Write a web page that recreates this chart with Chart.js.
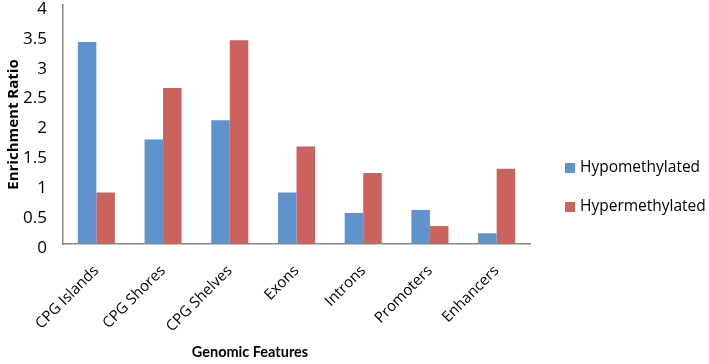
<!DOCTYPE html>
<html><head><meta charset="utf-8">
<script src="https://cdn.jsdelivr.net/npm/chart.js@4/dist/chart.umd.min.js"></script>
<style>html,body{margin:0;padding:0;background:#fff}#wrap{width:709px;height:364px}</style>
</head><body><div id="wrap"><canvas id="c"></canvas></div>
<script>
const categories = ['CPG Islands','CPG Shores','CPG Shelves','Exons','Introns','Promoters','Enhancers'];
const hypomethylated = [3.38, 1.75, 2.07, 0.86, 0.52, 0.57, 0.18];
const hypermethylated = [0.86, 2.61, 3.41, 1.63, 1.19, 0.30, 1.26];
const seriesNames = ['Hypomethylated','Hypermethylated'];
const yTicks = [0,0.5,1,1.5,2,2.5,3,3.5,4];
const FONT = "'Open Sans', 'Liberation Sans', sans-serif";
const colors = ['#5E93CC','#CC625E'];

const customLegend = {
  id:'customLegend',
  afterDraw(chart){
    const ctx = chart.ctx;
    ctx.save();
    ctx.font = "15.5px " + FONT;
    ctx.textBaseline = 'middle';
    const ys = [168, 207];
    seriesNames.forEach((n,i)=>{
      ctx.fillStyle = colors[i];
      ctx.fillRect(565, ys[i]-5, 10, 10);
      ctx.fillStyle = '#000';
      ctx.fillText(n, 580, ys[i]);
    });
    ctx.font = "bold 14.5px Lato, " + FONT;
    ctx.textAlign = 'center';
    ctx.fillText('Genomic Features', 250, 352);
    ctx.restore();
  }
};

new Chart(document.getElementById('c'), {
  type:'bar',
  data:{
    labels: categories,
    datasets:[
      {label: seriesNames[0], data: hypomethylated, backgroundColor: colors[0]},
      {label: seriesNames[1], data: hypermethylated, backgroundColor: colors[1]}
    ]
  },
  options:{
    responsive:true, maintainAspectRatio:false, animation:false,
    layout:{padding:{left:5, right:179, top:5, bottom:0}},
    datasets:{bar:{categoryPercentage:0.555, barPercentage:1}},
    plugins:{legend:{display:false}, tooltip:{enabled:false}},
    scales:{
      x:{
        grid:{display:false, drawTicks:false},
        border:{color:'#888', width:1.5},
        ticks:{color:'#000', font:{family:FONT, size:15}, minRotation:45, maxRotation:45, padding:18},
        afterFit(s){ s.height = 120; s.paddingLeft = 0; s.paddingRight = 0; }
      },
      y:{
        min:0, max:4,
        afterBuildTicks(s){ s.ticks = yTicks.map(v=>({value:v})); },
        grid:{display:false, drawTicks:true, tickLength:5, tickColor:'#888'},
        border:{color:'#888', width:1.5},
        ticks:{color:'#000', font:{family:FONT, size:17}, padding:11, labelOffset:4, callback:v=>String(v)},
        title:{display:true, text:'Enrichment Ratio', color:'#000', font:{family:FONT, size:15, weight:'bold'}, padding:{top:0,bottom:0}},
        afterFit(s){ s.width = 58; s.paddingTop = 0; s.paddingBottom = 0; }
      }
    }
  },
  plugins:[customLegend]
});
</script></body></html>
